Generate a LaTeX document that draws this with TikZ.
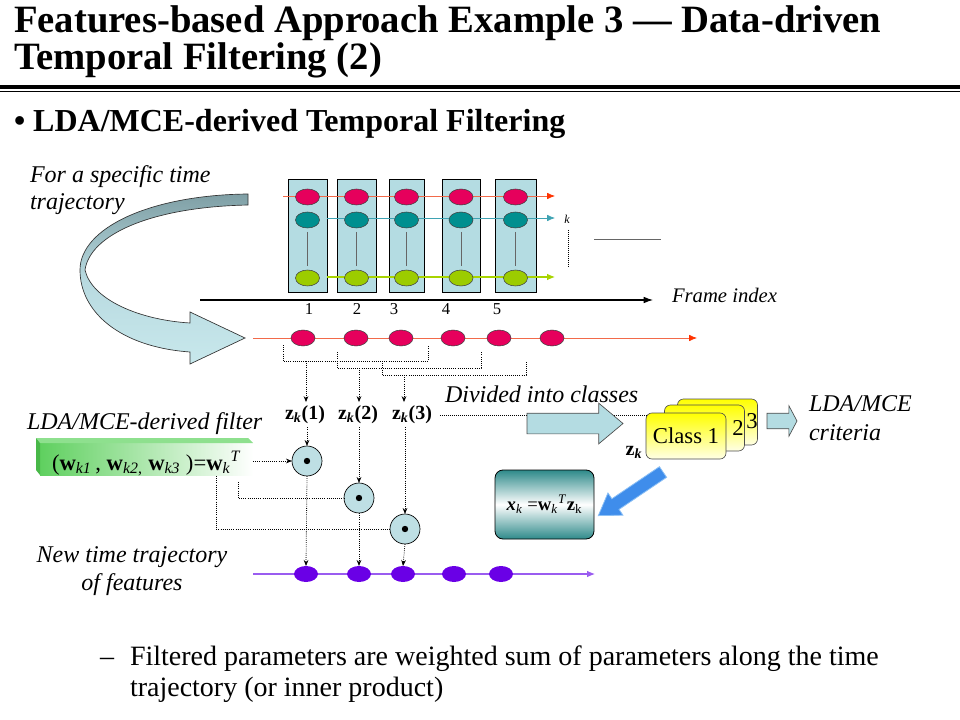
\documentclass[tikz,border=0pt]{standalone}
\usepackage{fontspec}
\setmainfont{LiberationSerif}[Extension=.ttf, UprightFont=*-Regular, BoldFont=*-Bold, ItalicFont=*-Italic, BoldItalicFont=*-BoldItalic]
\usetikzlibrary{arrows.meta,shapes.geometric,shapes.arrows,calc}
\definecolor{boxblue}{HTML}{B4DCE2}
\definecolor{ellred}{HTML}{E6005C}
\definecolor{ellteal}{HTML}{008F8F}
\definecolor{ellgreen}{HTML}{9CCC00}
\definecolor{linered}{HTML}{F26A4A}
\definecolor{tipred}{HTML}{FF3300}
\definecolor{lineteal}{HTML}{3FA3B3}
\definecolor{linegreen}{HTML}{A8D400}
\definecolor{ellpurple}{HTML}{6A00E6}
\definecolor{linepurple}{HTML}{9A5CF0}
\definecolor{circblue}{HTML}{BEDFE4}
\definecolor{arrowblue}{HTML}{3F8DEB}
\definecolor{arrowblueedge}{HTML}{8CC0F5}
\definecolor{tealdark}{HTML}{2E8A8A}
\definecolor{fgreen}{HTML}{5FD05F}
\definecolor{fgreendark}{HTML}{48B848}
\definecolor{fgreenlight}{HTML}{8EE08E}
\definecolor{paleyellow}{HTML}{FFFFE6}
\definecolor{curvetop}{HTML}{7F9FA5}
\definecolor{curvemid}{HTML}{B8DAE0}
\definecolor{curvebot}{HTML}{C8E8EC}
\begin{document}
\begin{tikzpicture}[x=0.75pt,y=-0.75pt,
  every node/.style={inner sep=0pt, outer sep=0pt},
  framebox/.style={draw=black, fill=boxblue, line width=0.6pt, minimum height=84.75pt},
  ell/.style={ellipse, draw=black!75, line width=0.4pt, minimum width=18pt, minimum height=12pt},
  redell/.style={ell, fill=ellred},
  tealell/.style={ell, fill=ellteal},
  greenell/.style={ell, fill=ellgreen},
  purpell/.style={ellipse, fill=ellpurple, minimum width=18pt, minimum height=12pt},
  dotline/.style={densely dotted, line width=0.6pt},
  dotarrow/.style={dotline, -{Stealth[length=4.5pt,width=3.5pt]}},
  prodcirc/.style={circle, draw=black, line width=0.5pt, fill=circblue, minimum size=22.5pt},
  classcard/.style={draw=black!70, line width=0.5pt, rounded corners=4.5pt, top color=yellow, bottom color=paleyellow, minimum width=60pt, minimum height=34.5pt},
  blockarrow/.style={single arrow, draw=black!70, line width=0.5pt, fill=boxblue},
  ilab/.style={font=\fontsize{18}{20}\selectfont\itshape},
  numlab/.style={font=\fontsize{12.5}{14}\selectfont, anchor=base},
  zlab/.style={font=\fontsize{15}{17}\selectfont\bfseries, anchor=base},
  bodytext/.style={font=\fontsize{21}{24}\selectfont, anchor=base west},
]
\useasboundingbox (0,0) rectangle (960,720);

% ---------- title ----------
\node[anchor=base west, font=\fontsize{29}{31}\selectfont\bfseries] (title1) at (14,33) {Features-based Approach Example 3 — Data-driven};
\node[anchor=base west, font=\fontsize{29}{31}\selectfont\bfseries] (title2) at (14,70) {Temporal Filtering (2)};
\draw[line width=3pt] (0,87) -- (960,87);
\draw[line width=0.75pt] (0,92) -- (960,92);
\node[anchor=base west, font=\fontsize{24}{26}\selectfont\bfseries] (bullet) at (14,132) {• LDA/MCE-derived Temporal Filtering};

% ---------- curved arrow ----------
\path[draw=black!80, line width=0.5pt, top color=curvetop, bottom color=curvebot, middle color=curvemid]
  (248,194) -- (248,205) .. controls (150,207) and (90,235) .. (85,270)
  .. controls (92,300) and (140,320) .. (190,323) -- (190,312) -- (245,338) -- (190,364) -- (190,352)
  .. controls (120,347) and (80,312) .. (80,270)
  .. controls (80,228) and (150,195) .. (248,194) -- cycle;
\node[ilab, anchor=base west] (spec1) at (30,183) {For a specific time};
\node[ilab, anchor=base west] (spec2) at (30,210) {trajectory};

% ---------- feature frames ----------
\node[framebox, minimum width=29.25pt] (f1) at (307.5,235.5) {};
\node[framebox, minimum width=29.25pt] (f2) at (356.5,235.5) {};
\node[framebox, minimum width=26.25pt] (f3) at (406.5,235.5) {};
\node[framebox, minimum width=28.5pt] (f4) at (461,235.5) {};
\node[framebox, minimum width=30.75pt] (f5) at (515.5,235.5) {};

\coordinate (rl0) at (283,196);  \coordinate (rl1) at (555,196);
\coordinate (tl0) at (327,218);  \coordinate (tl1) at (555,218);
\coordinate (gl0) at (327,277);  \coordinate (gl1) at (555,277);
\draw[linered, line width=0.6pt, arrows={-{Latex[length=6pt,width=5pt,color=tipred]}}] (rl0) -- (rl1);
\draw[lineteal, line width=0.6pt, -{Latex[length=6pt,width=5pt]}] (tl0) -- (tl1);
\draw[linegreen, line width=0.8pt, -{Latex[length=6pt,width=5pt]}] (gl0) -- (gl1);

\foreach \i/\x in {1/307.5,2/356.5,3/406.5,4/461,5/515.5}{
  \node[redell] (r\i) at (\x,197) {};
  \node[tealell] (t\i) at (\x,220) {};
  \node[greenell] (g\i) at (\x,278) {};
  \draw[black!60, line width=0.5pt] ([yshift=-3pt]t\i.south) -- ([yshift=3pt]g\i.north);
}

\node[font=\fontsize{9}{10}\selectfont\itshape] (klab) at (567,219) {k};
\coordinate (kd0) at (568,230); \coordinate (kd1) at (568,268);
\draw[dotline, line width=0.5pt] (kd0) -- (kd1);
\coordinate (gh0) at (594,239); \coordinate (gh1) at (661,239);
\draw[black!60, line width=0.6pt] (gh0) -- (gh1);

% frame index axis
\coordinate (ax0) at (200,300);
\node[font=\fontsize{15.5}{17}\selectfont\itshape, anchor=base west] (frameidx) at (672,302) {Frame index};
\coordinate (ax1) at (653,300);
\draw[line width=0.8pt, -{Latex[length=7pt,width=5pt]}] (ax0) -- (ax1);
\node[numlab] (n1) at (309,315) {1};
\node[numlab] (n2) at (357,315) {2};
\node[numlab] (n3) at (394,315) {3};
\node[numlab] (n4) at (446,315) {4};
\node[numlab] (n5) at (497,315) {5};

% ---------- selected trajectory ----------
\coordinate (sl0) at (253,338); \coordinate (sl1) at (697,338);
\draw[linered, line width=0.6pt, arrows={-{Latex[length=6pt,width=5pt,color=tipred]}}] (sl0) -- (sl1);
\foreach \i/\x in {1/303,2/356,3/401,4/453,5/499,6/552}{
  \node[redell] (s\i) at (\x,338) {};
}

% brackets
\coordinate (b1a) at (283,345); \coordinate (b1b) at (428,345);
\coordinate (b2a) at (337,352); \coordinate (b2b) at (481,352);
\coordinate (b3a) at (382,361); \coordinate (b3b) at (526,361);
\draw[dotline] (b1a) -- ++(0,16) -| (b1b);
\draw[dotline] (b2a) -- ++(0,16) -| (b2b);
\draw[dotline] (b3a) -- ++(0,14) -| (b3b);

\node[zlab] (z1) at (305,419) {z\textsubscript{\textit{k}}(1)};
\node[zlab] (z2) at (358,419) {z\textsubscript{\textit{k}}(2)};
\node[zlab] (z3) at (412,419) {z\textsubscript{\textit{k}}(3)};

\coordinate (bm1) at (306,361); \coordinate (bm2) at (359,368); \coordinate (bm3) at (404,375);
\draw[dotarrow] (bm1) -- ($(bm1 |- z1.north)+(0,-3)$);
\draw[dotarrow] (bm2) -- ($(bm2 |- z2.north)+(0,-3)$);
\draw[dotarrow] (bm3) -- ($(bm3 |- z3.north)+(0,-3)$);

% ---------- classes ----------
\node[ilab, anchor=base west] (divided) at (445,402) {Divided into classes};
\node[classcard] (c3card) at (717.5,422) {};
\node[classcard] (c2card) at (704.5,428) {};
\node[classcard, font=\fontsize{17}{19}\selectfont] (c1card) at (686,436) {Class 1};
\node[font=\fontsize{17}{19}\selectfont] (lab2) at (738,428) {2};
\node[font=\fontsize{17}{19}\selectfont] (lab3) at (752,421) {3};
\draw[dotline, line width=0.5pt] ($(z3.east |- 0,415)+(8,0)$) -- (c1card.west |- 0,415);
\node[blockarrow, anchor=tail, minimum height=72pt, inner sep=7.5pt, single arrow head extend=7.5pt, single arrow tip angle=80] (divarrow) at (527,423.5) {};
\node[zlab, anchor=base] (zk) at (634,455) {z\textsubscript{\textit{k}}};

\node[blockarrow, anchor=tail, minimum height=22.5pt, inner sep=5.6pt, single arrow head extend=5.6pt, single arrow tip angle=124] (critarrow) at (767,421) {};
\node[ilab, anchor=base west] (crit1) at (809,411) {LDA/MCE};
\node[ilab, anchor=base west] (crit2) at (809,440) {criteria};

\node[draw=black, line width=0.6pt, rounded corners=6pt, top color=tealdark, bottom color=tealdark, middle color=white, minimum width=74.25pt, minimum height=51.75pt,
      font=\fontsize{14}{16}\selectfont] (formula) at (544.5,504.5)
  {\textbf{\textit{x}}\textsubscript{\textit{k}} =\textbf{w}\textsubscript{\textit{k}}\textsuperscript{\textit{T}}\textbf{z}\textsubscript{k}};
\node[single arrow, anchor=tail, rotate=214, minimum height=58.5pt, inner sep=4.5pt, single arrow head extend=5.25pt, single arrow tip angle=66,
      fill=arrowblue, draw=arrowblueedge, line width=0.6pt] (diagarrow) at (663,472) {};

% ---------- filter box ----------
\node[ilab, anchor=base west] (filtlab) at (27,429) {LDA/MCE-derived filter};
\node[left color=fgreen, right color=white, minimum width=159.75pt, minimum height=24pt] (fbox) at (146.5,459) {};
\path[fill=fgreenlight] (36,438) -- (248,438) -- (253,443) -- (40,443) -- cycle;
\path[fill=fgreendark] (36,438) -- (40,443) -- (40,475) -- (36,470) -- cycle;
\node[anchor=base west, font=\fontsize{17}{19}\selectfont] (wvec) at (52,470)
  {(\textbf{w}\textsubscript{\textit{k1}}\,, \textbf{w}\textsubscript{\textit{k2},} \textbf{w}\textsubscript{\textit{k3}} )=\textbf{w}\textsubscript{\textit{k}}\textsuperscript{\textit{T}}};

% ---------- products ----------
\node[prodcirc] (p1) at (307,461) {};
\node[prodcirc] (p2) at (359,498) {};
\node[prodcirc] (p3) at (405,529) {};
\foreach \i in {1,2,3}{ \fill (p\i) circle (2.4pt); }

\draw[dotarrow] ($(p1 |- z1.south)+(0,4)$) -- (p1.north);
\draw[dotarrow] ($(p2 |- z2.south)+(0,4)$) -- (p2.north);
\draw[dotarrow] ($(p3 |- z3.south)+(0,4)$) -- (p3.north);

\draw[dotarrow] (fbox.east |- p1) -- (p1.west);
\coordinate (w2) at (238,482); \coordinate (w3) at (216,476);
\draw[dotline] (w2) |- (p2.west);
\draw[dotline] (w3) |- (p3.west);

% ---------- new trajectory ----------
\coordinate (nl0) at (253,574); \coordinate (nl1) at (595,574);
\draw[linepurple, line width=0.8pt, -{Latex[length=6pt,width=5pt]}] (nl0) -- (nl1);
\foreach \i/\x in {1/306,2/359,3/403,4/454,5/501}{
  \node[purpell] (q\i) at (\x,574) {};
}
\draw[dotarrow] (p1.south) -- (q1.north);
\draw[dotarrow] (p2.south) -- (q2.north);
\draw[dotarrow] (p3.south) -- (q3.north);
\node[ilab, anchor=base] (new1) at (132,562) {New time trajectory};
\node[ilab, anchor=base] (new2) at (132,590) {of features};

% ---------- bottom text ----------
\node[bodytext] (dash) at (100,665) {–};
\node[bodytext] (body1) at (130,665) {Filtered parameters are weighted sum of parameters along the time};
\node[bodytext] (body2) at (130,696) {trajectory (or inner product)};
\end{tikzpicture}
\end{document}
